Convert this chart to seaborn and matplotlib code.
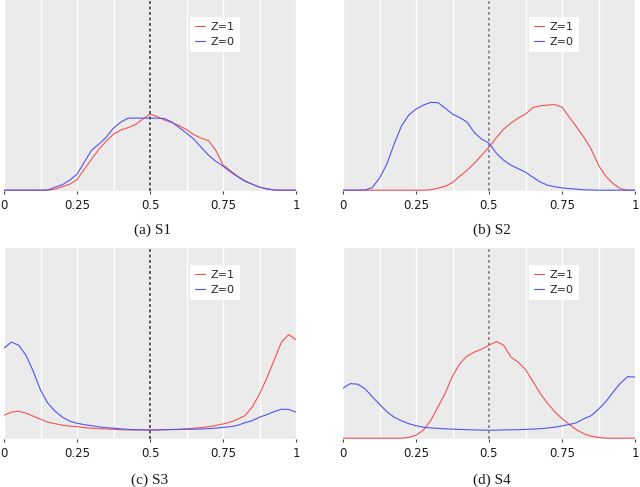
import matplotlib

matplotlib.use("Agg")
import matplotlib.pyplot as plt
import pandas as pd
import seaborn as sns

# score positions along the x axis
x_grid = [
    0.0, 0.025, 0.05, 0.075, 0.1, 0.125, 0.15, 0.175, 0.2, 0.225,
    0.25, 0.275, 0.3, 0.325, 0.35, 0.375, 0.4, 0.425, 0.45, 0.475,
    0.5, 0.525, 0.55, 0.575, 0.6, 0.625, 0.65, 0.675, 0.7, 0.725,
    0.75, 0.775, 0.8, 0.825, 0.85, 0.875, 0.9, 0.925, 0.95, 0.975, 1.0,
]

# density estimates (arbitrary units)
s1_z1 = [
    0, 0, 0, 0, 0, 0, 0, 1, 3.5, 6,
    10.5, 21, 31, 41, 49, 56, 60, 62.5, 65.5, 71,
    76, 73.5, 70, 67.5, 64.5, 60.5, 55.5, 52, 49.5, 40,
    25.5, 19.5, 14, 9.5, 6, 3, 1.5, 0.3, 0, 0, 0,
]
s1_z0 = [
    0, 0, 0, 0, 0, 0, 0.3, 3, 5.5, 10,
    16, 28, 40, 46, 53, 62, 68, 72, 72, 72,
    72, 72, 71.5, 68, 62.5, 57, 51, 43, 35, 29,
    24, 18.5, 13.5, 9, 6, 3, 1.2, 0.2, 0, 0, 0,
]
s2_z1 = [
    0, 0, 0, 0, 0, 0, 0, 0, 0, 0,
    0, 0, 0.5, 2, 4, 7.5, 14, 20, 27, 35,
    43, 52.5, 61, 67, 72, 76, 82.5, 84.3, 85, 85.5,
    83, 73, 63, 53, 41, 25, 14, 6.5, 1.5, 0, 0,
]
s2_z0 = [
    0, 0, 0, 0.3, 2.5, 12, 26, 46, 64, 75,
    81, 85, 87.7, 87.5, 82, 76, 72.5, 68, 57.5, 51,
    47, 37, 30, 25, 21.5, 18, 13, 8.3, 5, 3.5,
    2.3, 1.6, 1, 0.4, 0.2, 0, 0, 0, 0, 0, 0,
]
s3_z1 = [
    23, 26, 27, 25, 22, 19, 16, 14.5, 13, 12,
    11.5, 10.5, 10, 9.5, 9.2, 8.8, 8.5, 8.3, 8.2, 8.2,
    8.2, 8.3, 8.5, 8.7, 9, 9.4, 10, 10.6, 11.5, 12.7,
    14.2, 16, 19, 22.5, 31, 44, 60, 78, 96, 103.5, 98.5,
]
s3_z0 = [
    90, 96, 93, 83, 67, 48, 35, 27, 21, 17,
    15, 13.5, 12.5, 11.3, 10.5, 10, 9.3, 8.8, 8.5, 8.3,
    8.2, 8.3, 8.5, 8.6, 8.7, 8.9, 9, 9.2, 9.6, 10.1,
    10.8, 11.5, 12.8, 15.5, 17.5, 21, 23.5, 26.5, 29, 28.7, 26,
]
s4_z1 = [
    0, 0, 0, 0, 0, 0, 0, 0, 0, 0.8,
    3, 8, 17.5, 31, 45, 62, 74.5, 82, 86, 89,
    93, 96.5, 93, 81, 76, 68.5, 57, 45, 35, 26.5,
    19.5, 13.8, 8.3, 4.5, 2, 0.8, 0, 0, 0, 0, 0,
]
s4_z0 = [
    50, 54.5, 54, 49.5, 41.5, 34, 26.5, 21, 17.5, 14.5,
    12.5, 11, 10.3, 9.8, 9.4, 9, 8.8, 8.5, 8.3, 8.1,
    8, 8, 8.3, 8.4, 8.5, 8.8, 9.1, 9.5, 10.2, 11,
    12.3, 13.7, 15.5, 19.5, 22.5, 29, 36.5, 46, 55, 61.5, 61,
]

panels = [
    ("(a) S1", s1_z1, s1_z0),
    ("(b) S2", s2_z1, s2_z0),
    ("(c) S3", s3_z1, s3_z0),
    ("(d) S4", s4_z1, s4_z0),
]
tick_values = [0, 0.25, 0.5, 0.75, 1]
tick_labels = ["0", "0.25", "0.5", "0.75", "1"]
groups = ["Z=1", "Z=0"]

RED = "#f25252"
BLUE = "#5252f2"

sns.set_theme(
    style="dark",
    rc={"axes.facecolor": "#ebebeb", "figure.facecolor": "white"},
)
plt.rcParams["font.family"] = ["DejaVu Sans"]

figure = plt.figure(figsize=(6.4, 4.87), dpi=100)
W, H = 640, 487
# left, top, right, bottom in pixels
boxes = [(4, 0, 296, 191), (343, 0, 635, 191), (4, 248, 296, 439), (343, 248, 635, 439)]
caption_xy = [(152, 230), (492, 230), (150, 480), (492, 480)]
dash_colours = ["#333333", "#777777", "#333333", "#777777"]

for (caption, z1, z0), (l, t, r, b), (cx, cy), dash in zip(
    panels, boxes, caption_xy, dash_colours
):
    axis = figure.add_axes([l / W, 1 - b / H, (r - l) / W, (b - t) / H])
    frame = pd.DataFrame(
        {
            "score": x_grid + x_grid,
            "density": z1 + z0,
            "group": [groups[0]] * len(x_grid) + [groups[1]] * len(x_grid),
        }
    )
    sns.lineplot(
        data=frame,
        x="score",
        y="density",
        hue="group",
        hue_order=groups,
        palette={"Z=1": RED, "Z=0": BLUE},
        linewidth=0.8,
        legend=False,
        ax=axis,
    )
    axis.set_xlim(0, 1)
    axis.set_ylim(-0.8, 190)
    axis.set_xticks(tick_values, labels=tick_labels)
    axis.set_xticks([0.125, 0.375, 0.625, 0.875], minor=True)
    axis.set_yticks([])
    axis.grid(axis="x", which="both", color="white", linewidth=1.0)
    axis.grid(axis="y", visible=False)
    axis.set_axisbelow(True)
    axis.axvline(0.5, color=dash, linestyle=(0, (2, 1.6)), linewidth=1.1, zorder=3)
    axis.tick_params(
        axis="x", which="major", bottom=True, length=2, width=0.8,
        color="#444444", pad=4, labelsize=8.5, labelcolor="#1a1a1a",
    )
    axis.tick_params(axis="x", which="minor", length=0)
    axis.set_xlabel("")
    axis.set_ylabel("")
    for spine in axis.spines.values():
        spine.set_visible(False)

    handles = axis.lines[:2]
    legend = axis.legend(
        handles,
        groups,
        loc="upper left",
        bbox_to_anchor=(0.637, 0.911),
        borderaxespad=0,
        frameon=True,
        fancybox=False,
        facecolor="white",
        edgecolor="white",
        framealpha=1,
        fontsize=8,
        handlelength=0.9,
        handletextpad=0.5,
        labelspacing=0.45,
        borderpad=0.45,
    )
    legend.get_frame().set_linewidth(0)

    figure.text(
        cx / W, 1 - cy / H, caption, ha="center", va="center",
        fontsize=11, family=["Liberation Serif"], color="#1a1a1a",
    )

figure.savefig("out.png", dpi=100)
